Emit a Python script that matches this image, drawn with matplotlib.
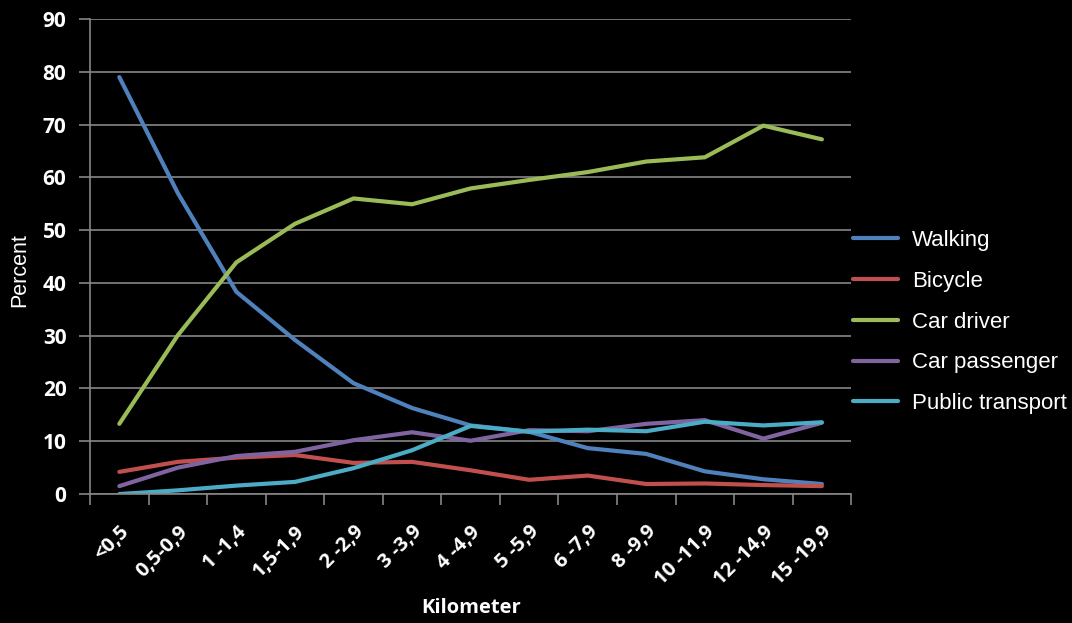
import matplotlib
matplotlib.use("Agg")
import matplotlib.pyplot as plt
import numpy as np

# Distanzklassen (km) und Anteile der Verkehrsmittel in Prozent
distanz = ["<0,5", "0,5-0,9", "1 -1,4", "1,5-1,9", "2 -2,9", "3 -3,9", "4 -4,9",
           "5 -5,9", "6 -7,9", "8 -9,9", "10 -11,9", "12 -14,9", "15 -19,9"]

walking = [79, 57, 38.3, 29.2, 21, 16.3, 13, 11.8, 8.7, 7.6, 4.3, 2.8, 1.9]
bicycle = [4.2, 6.1, 6.9, 7.4, 5.9, 6.1, 4.5, 2.7, 3.5, 1.9, 2.0, 1.7, 1.5]
car_driver = [13.3, 30.1, 43.9, 51.2, 56, 54.9, 57.9, 59.5, 61, 63, 63.8, 69.8, 67.2]
car_passenger = [1.5, 5, 7.2, 8.0, 10.2, 11.7, 10.1, 12.1, 11.9, 13.3, 14, 10.5, 13.5]
public_transport = [0, 0.7, 1.6, 2.3, 4.9, 8.3, 12.9, 11.8, 12.2, 11.9, 13.7, 13, 13.6]

serien = [("Walking", walking, "#4f81bd"),
          ("Bicycle", bicycle, "#c0504d"),
          ("Car driver", car_driver, "#9bbb59"),
          ("Car passenger", car_passenger, "#8064a2"),
          ("Public transport", public_transport, "#4bacc6")]

GRAU = "#868686"
TICKFONT = "Open Sans"

fig = plt.figure(figsize=(10.72, 6.23), dpi=100, facecolor="black")
ax = fig.add_axes([0.084, 0.207, 0.71, 0.7625], facecolor="black")

x = np.arange(len(distanz))
for name, werte, farbe in serien:
    ax.plot(x, werte, color=farbe, lw=3.0, label=name, solid_capstyle="round")

ax.set_xlim(-0.5, len(distanz) - 0.5)
ax.set_ylim(0, 90)
ax.set_yticks(np.arange(0, 91, 10))
ax.grid(axis="y", color=GRAU, lw=1.2)
ax.set_axisbelow(True)

for s in ["top", "right"]:
    ax.spines[s].set_visible(False)
for s in ["left", "bottom"]:
    ax.spines[s].set_color(GRAU)
    ax.spines[s].set_linewidth(1.2)

# Striche an den Klassengrenzen
ax.set_xticks(np.arange(-0.5, len(distanz), 1.0))
ax.set_xticklabels([])
ax.set_xticks(x, minor=True)
ax.set_xticklabels(distanz, minor=True, rotation=45, ha="right", va="top",
                   rotation_mode="anchor", fontsize=14.5, fontweight="bold",
                   family=TICKFONT, color="white")
ax.tick_params(axis="x", which="major", length=8, width=1.2, color=GRAU, direction="out")
ax.tick_params(axis="x", which="minor", length=0, pad=20)
ax.tick_params(axis="y", length=8, width=1.2, color=GRAU, pad=9)
for lbl in ax.get_yticklabels():
    lbl.set_fontweight("bold")
    lbl.set_fontsize(15)
    lbl.set_family(TICKFONT)
    lbl.set_color("white")

ax.set_xlabel("Kilometer", color="white", fontsize=14.5, fontweight="bold",
              family=TICKFONT, va="center")
ax.xaxis.set_label_coords(0.501, -0.24)
ax.set_ylabel("Percent", color="white", fontsize=15.5, family="Liberation Sans", va="center")
ax.yaxis.set_label_coords(-0.092, 0.472)

leg = ax.legend(loc="center left", bbox_to_anchor=(1.0, 0.362), frameon=False,
                labelcolor="white", handlelength=2.0, labelspacing=0.89,
                handletextpad=0.65, borderaxespad=0.1, borderpad=0,
                prop={"family": "Liberation Sans", "size": 16})

fig.savefig("out.png", dpi=100, facecolor="black")
